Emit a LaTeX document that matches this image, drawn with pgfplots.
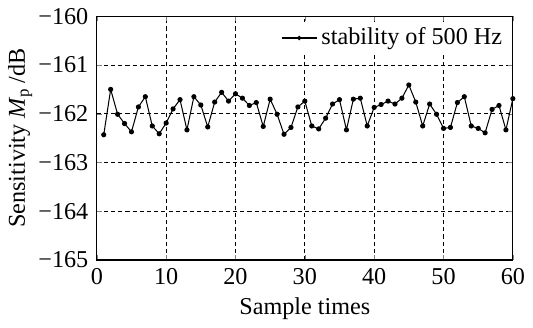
\documentclass[border=0pt]{standalone}
\usepackage{fontspec}
\setmainfont{Liberation Serif}
\usepackage{pgfplots}
\pgfplotsset{compat=1.18}
\begin{document}
\fontsize{11.8}{13}\selectfont
\begin{tikzpicture}
\begin{axis}[
  width=203pt, height=119pt, scale only axis,
  xmin=0, xmax=60, ymin=-165, ymax=-160,
  xtick={0,10,...,60},
  ytick={-165,-164,-163,-162,-161,-160},
  yticklabels={−165,−164,−163,−162,−161,−160},
  /pgf/number format/assume math mode=true,
  tick label style={font=\fontsize{11.8}{13}\selectfont},
  label style={font=\fontsize{11.8}{13}\selectfont},
  grid=major,
  major grid style={dash pattern=on 2pt off 1.5pt, black, line width=0.4pt},
  tick align=inside,
  major tick length=2.5pt,
  axis line style={line width=0.6pt},
  xlabel={Sample times},
  ylabel={Sensitivity \textit{M}\textsubscript{p}\,/dB},
  xlabel style={yshift=2pt},
  ylabel style={yshift=-5pt},
  legend style={draw=none, fill=white, at={(0.99,0.98)}, anchor=north east, font=\fontsize{11.8}{13}\selectfont, inner sep=1pt},
  legend cell align=left,
  legend image post style={mark size=0.8pt},
]
\addplot[black, line width=0.5pt, mark=*, mark size=1pt] coordinates {
(1,-162.43) (2,-161.50) (3,-162.01) (4,-162.20) (5,-162.37) (6,-161.86)
(7,-161.65) (8,-162.25) (9,-162.41) (10,-162.19) (11,-161.90) (12,-161.71)
(13,-162.33) (14,-161.65) (15,-161.82) (16,-162.27) (17,-161.76) (18,-161.56)
(19,-161.74) (20,-161.59) (21,-161.68) (22,-161.83) (23,-161.77) (24,-162.26)
(25,-161.70) (26,-162.01) (27,-162.42) (28,-162.28) (29,-161.86) (30,-161.74)
(31,-162.25) (32,-162.31) (33,-162.09) (34,-161.80) (35,-161.71) (36,-162.33)
(37,-161.70) (38,-161.68) (39,-162.25) (40,-161.87) (41,-161.81) (42,-161.74)
(43,-161.80) (44,-161.68) (45,-161.41) (46,-161.76) (47,-162.25) (48,-161.80)
(49,-162.01) (50,-162.30) (51,-162.28) (52,-161.77) (53,-161.65) (54,-162.25)
(55,-162.30) (56,-162.39) (57,-161.91) (58,-161.83) (59,-162.33) (60,-161.69)
};
\addlegendentry{stability of 500 Hz}
\end{axis}
\end{tikzpicture}
\end{document}
